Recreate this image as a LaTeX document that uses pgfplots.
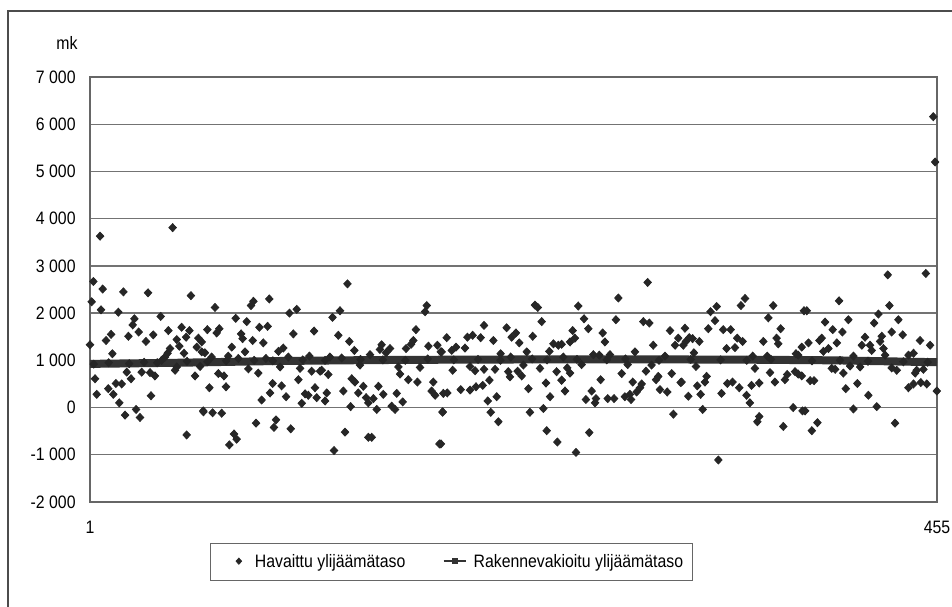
\documentclass[border=0pt]{standalone}
\usepackage{fontspec}
\setmainfont{Liberation Sans}[FakeStretch=0.88]
\usepackage{pgfplots}
\usepackage{pgfplotstable}
\pgfplotsset{compat=1.18}
\pgfplotstableread{
x y
6.4 3630
45.3 3810
2.8 2670
7.8 2510
18.9 2450
32.1 2430
55.1 2370
1.9 2240
6.9 2070
16.2 2020
38.9 1930
24.8 1880
23.9 1750
50.1 1700
43.0 1630
54.3 1630
27.1 1600
12.3 1550
34.9 1540
21.6 1510
52.5 1490
59.1 1470
47.5 1440
9.6 1420
31.0 1400
1.0 1330
48.9 1300
58.2 1280
43.9 1250
51.4 1150
13.0 1140
42.6 1150
41.2 1070
39.4 1000
60.9 1180
47.5 860
46.6 790
60.0 870
57.3 670
35.8 670
28.7 750
33.2 740
20.7 750
23.0 610
3.7 610
14.9 510
18.0 500
10.8 400
4.6 280
13.5 280
33.7 250
16.7 100
61.8 -90
25.7 -40
19.8 -160
27.8 -210
52.8 -580
97.1 2300
88.6 2250
87.3 2160
68.0 2120
111.8 2080
107.9 2000
79.1 1890
85.0 1820
91.8 1700
96.2 1720
63.9 1650
70.3 1670
68.9 1580
121.1 1620
110.0 1560
82.0 1560
82.8 1460
88.2 1420
93.9 1370
60.9 1390
77.0 1280
84.1 1180
62.6 1160
104.6 1260
102.0 1190
66.2 1070
75.1 1090
80.5 1040
118.6 1090
95.3 1040
107.3 1070
85.9 820
102.9 860
91.2 730
113.6 830
119.8 770
124.3 770
69.8 720
72.8 670
112.7 590
65.0 420
73.9 440
98.9 510
103.7 460
121.6 420
97.5 310
106.1 230
116.3 290
118.0 260
122.5 210
93.0 160
114.5 90
61.7 -70
66.7 -110
71.6 -120
90.0 -330
100.7 -260
99.6 -420
108.6 -450
78.2 -560
79.6 -670
75.7 -790
139.0 2620
181.5 2160
180.6 2030
135.0 2050
131.0 1910
175.7 1650
134.1 1530
174.3 1420
173.1 1340
140.0 1400
142.7 1210
157.3 1330
156.4 1230
161.8 1250
159.7 1160
170.4 1250
182.4 1300
187.2 1320
189.0 1180
151.1 1120
129.6 1070
135.9 1050
145.7 900
166.3 860
177.9 850
125.2 790
128.7 700
167.2 710
141.3 610
143.0 540
171.6 590
176.5 540
185.0 540
147.5 450
155.6 450
184.1 350
127.9 310
136.8 350
144.8 310
149.0 210
158.2 280
165.4 300
186.0 260
190.4 300
152.9 190
127.0 140
150.2 100
168.6 120
140.7 20
162.7 30
164.5 -40
154.7 -40
190.0 -100
137.7 -520
150.2 -630
152.0 -630
188.3 -770
131.8 -910
239.5 2170
241.0 2120
243.1 1820
212.2 1740
224.3 1690
192.2 1480
203.3 1490
206.1 1530
210.4 1480
229.3 1580
227.0 1490
217.2 1420
238.3 1510
231.1 1370
197.2 1280
194.9 1210
202.0 1260
189.5 1180
249.4 1350
252.0 1320
247.2 1190
235.1 1180
221.1 1140
226.5 1070
204.7 870
233.3 900
242.2 830
195.4 790
207.4 780
212.2 810
218.1 810
225.2 760
230.2 770
232.4 670
226.1 650
251.1 760
215.1 580
253.8 580
245.4 520
211.5 470
207.9 440
236.0 400
199.7 380
204.7 370
192.5 310
219.0 230
247.6 230
214.2 140
190.0 -90
215.8 -100
236.8 -100
244.0 -20
219.9 -300
245.8 -490
251.5 -730
189.1 -770
299.9 2650
284.2 2320
262.7 2150
265.8 1880
282.9 1860
297.6 1820
300.8 1790
268.1 1670
259.7 1630
311.9 1630
275.8 1580
260.9 1470
258.3 1390
316.3 1470
277.0 1390
253.8 1340
314.6 1320
302.9 1320
293.1 1180
270.8 1120
274.0 1110
279.7 1120
309.2 1090
254.7 1070
264.5 910
289.2 910
302.0 900
256.8 840
258.3 730
299.0 770
286.0 720
312.8 720
305.6 660
304.4 590
253.8 580
274.7 590
291.9 540
317.6 530
296.7 500
295.8 420
306.5 380
310.4 330
255.6 350
269.9 350
294.0 330
290.4 280
287.7 230
266.8 170
272.2 190
271.7 100
278.5 190
281.9 190
291.0 170
313.7 -140
268.6 -530
261.5 -950
352.1 2310
349.9 2160
336.9 2140
367.2 2160
333.6 2030
364.6 1900
336.0 1840
319.9 1680
332.4 1670
340.4 1650
344.4 1650
371.2 1670
322.2 1480
320.4 1400
324.0 1460
327.6 1400
319.0 1320
347.9 1470
350.8 1400
361.9 1400
369.0 1470
369.9 1350
342.2 1250
346.7 1270
383.7 2050
324.7 1160
356.2 1090
364.0 1090
379.4 1140
380.6 1110
325.8 870
357.4 830
365.5 740
378.9 760
380.6 710
374.7 700
331.5 660
330.6 540
318.1 540
345.4 540
342.6 510
359.7 520
368.1 540
373.5 590
326.5 460
355.6 470
349.0 420
321.7 240
328.3 280
339.5 300
352.9 260
354.7 100
329.4 -40
377.9 0
382.9 -70
359.7 -190
358.7 -300
372.6 -400
337.8 -1110
428.6 2810
449.0 2840
402.5 2260
429.5 2160
385.2 2050
423.6 1980
407.5 1860
434.3 1860
395.0 1810
421.3 1790
399.1 1650
404.3 1600
430.7 1600
436.6 1540
416.4 1490
425.4 1510
393.2 1470
392.0 1420
445.9 1420
386.1 1370
401.3 1370
414.7 1320
419.1 1320
424.5 1400
451.3 1320
382.5 1280
396.8 1250
394.1 1190
420.0 1210
426.3 1250
439.7 1110
442.4 1150
427.2 1110
410.2 1090
413.8 860
408.4 880
398.6 830
400.4 810
430.7 840
433.4 790
444.1 790
447.7 810
404.8 730
443.3 730
382.5 670
387.0 570
389.1 570
412.3 510
439.7 420
442.4 500
446.3 530
449.5 500
406.1 400
454.9 350
418.2 260
384.3 -70
410.2 -30
422.7 20
432.5 -330
390.9 -320
387.9 -490
453.0 6160
454.0 5200
3 920
11 950
22 930
30 960
37 950
53 980
64 970
74 990
89 1000
99 990
115 1010
127 1000
146 1020
158 1010
170 1000
182 1030
196 1010
209 1020
221 1000
238 1030
246 1010
262 1020
278 1010
288 1030
306 1000
323 1020
339 1010
353 1000
366 1020
388 990
403 1000
418 980
437 970
450 960
}\observed
\pgfplotstableread{
x y
1 925
50 950
100 985
150 1005
200 1015
250 1020
300 1020
350 1015
400 1000
455 960
}\adjusted
\begin{document}
\fontsize{9bp}{11bp}\selectfont
\begin{tikzpicture}
\begin{axis}[
  scale only axis,
  width=423.5bp, height=212.5bp,
  xmin=1, xmax=455, ymin=-2000, ymax=7000,
  xtick={1,455}, xticklabels={1,455},
  ytick={-2000,-1000,...,7000},
  yticklabels={{-2 000},{-1 000},0,{1 000},{2 000},{3 000},{4 000},{5 000},{6 000},{7 000}},
  major tick length=0pt,
  ymajorgrids, grid style={black!55, line width=0.7bp},
  axis line style={black!60, line width=0.8bp},
  yticklabel style={anchor=east, inner sep=0pt, xshift=-7bp},
  xticklabel style={anchor=north, inner sep=0pt, yshift=-9.5bp},
  clip=false,
  legend columns=2,
  legend style={at={(0.4268,-0.1412)}, anchor=center, draw=black!60, line width=0.6bp,
    inner xsep=4.5bp, inner ysep=5.5bp, nodes={inner sep=0bp, anchor=base west},
    /tikz/every odd column/.append style={column sep=3.5bp},
    /tikz/every even column/.append style={column sep=18.5bp}},
]
\addplot[only marks, mark=diamond*, mark size=2bp, color=black!85,
  mark options={xscale=1.25},
  legend image code/.code={\path[draw=none] (-9.5bp,3bp) -- (4.5bp,3bp); \path[draw=none] plot[mark=diamond*, mark size=1.6bp, mark options={draw=black!85, fill=black!85, xscale=1.2, line width=0.3bp}] coordinates {(0bp,3bp)};}]
  table[x=x,y=y] {\observed};
\addlegendentry{Havaittu ylijäämätaso}
\addplot[color=black!80, line width=4bp, mark=none,
  legend image code/.code={\draw[black!80, line width=1.1bp] (0bp,3bp) -- (11bp,3bp); \path[draw=none] plot[mark=square*, mark size=1.2bp, mark options={draw=black!80, fill=black!80, line width=0.3bp}] coordinates {(5.5bp,3bp)};}]
  table[x=x,y=y] {\adjusted};
\addlegendentry{Rakennevakioitu ylijäämätaso}
\coordinate (O) at (rel axis cs:0,0);
\end{axis}
\node[anchor=east, inner sep=0pt] at ([shift={(-6bp,229.5bp)}]O) {mk};
\draw[black!70, line width=0.9bp] ([shift={(-41bp,-52.5bp)}]O) -- ([shift={(-41bp,245.5bp)}]O) -- ([shift={(431bp,245.5bp)}]O);
\pgfresetboundingbox
\path[use as bounding box] ([shift={(-45bp,-52.5bp)}]O) rectangle ([shift={(431bp,251bp)}]O);
\end{tikzpicture}
\end{document}
